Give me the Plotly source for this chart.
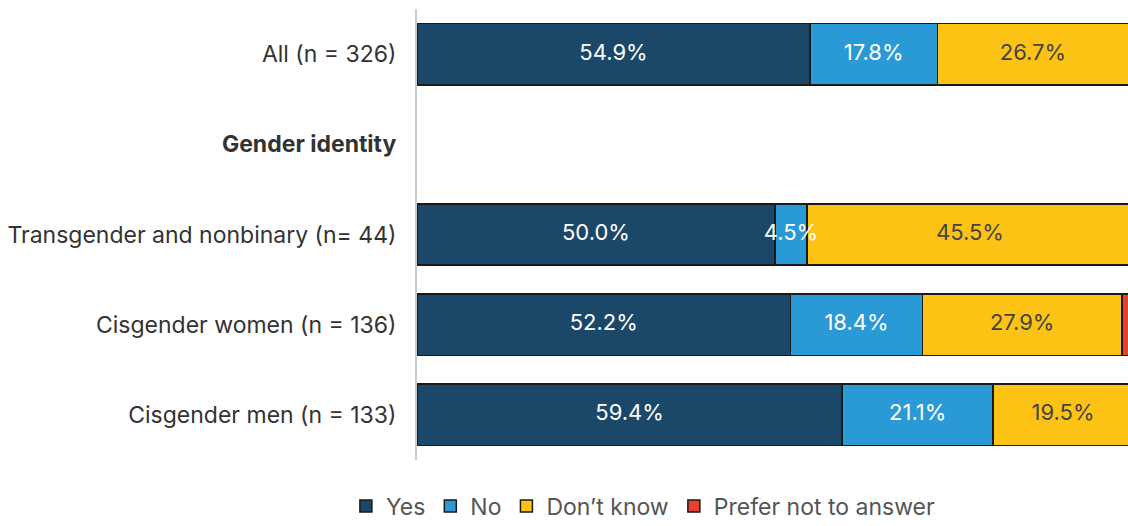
import plotly.graph_objects as go

categories = [
    "All (n = 326)",
    "<b>Gender identity</b>",
    "Transgender and nonbinary (n= 44)",
    "Cisgender women (n = 136)",
    "Cisgender men (n = 133)",
]
series_names = ["Yes", "No", "Don\u2019t know", "Prefer not to answer"]
yes_vals = [54.9, None, 50.0, 52.2, 59.4]
no_vals = [17.8, None, 4.5, 18.4, 21.1]
dont_know_vals = [26.7, None, 45.5, 27.9, 19.5]
prefer_not_vals = [0.6, None, 0.0, 1.5, 0.0]

colors = ["#1b4869", "#2a9ad7", "#fcc314", "#e8402c"]
text_colors = ["#ffffff", "#ffffff", "#444444", None]
FONT = "Inter, 'Open Sans', sans-serif"

all_series = [yes_vals, no_vals, dont_know_vals, prefer_not_vals]

fig = go.Figure()
for name, vals, col in zip(series_names, all_series, colors):
    fig.add_trace(
        go.Bar(
            name=name,
            y=categories,
            x=vals,
            orientation="h",
            marker=dict(color=col, line=dict(color="#1a1a1a", width=1.5)),
            hoverinfo="x+name",
        )
    )

# Value labels centred on each stacked segment, drawn above all bars
offsets = [0.0] * len(categories)
for name, vals, tcol in zip(series_names, all_series, text_colors):
    xs, ys, texts = [], [], []
    for i, v in enumerate(vals):
        if v is None:
            continue
        if tcol is not None:
            xs.append(offsets[i] + v / 2)
            ys.append(categories[i])
            texts.append(f"{v:.1f}%")
        offsets[i] += v
    if tcol is None:
        continue
    fig.add_trace(
        go.Scatter(
            x=xs,
            y=ys,
            mode="text",
            text=texts,
            textposition="middle center",
            textfont=dict(color=tcol, size=22, family=FONT),
            showlegend=False,
            hoverinfo="skip",
            cliponaxis=True,
        )
    )

fig.update_layout(
    barmode="stack",
    bargap=0.32,
    width=1128,
    height=526,
    margin=dict(l=417, r=0, t=9, b=66, autoexpand=False),
    plot_bgcolor="white",
    paper_bgcolor="white",
    font=dict(family=FONT, size=22, color="#333333"),
    legend=dict(
        orientation="h",
        x=-0.1,
        xanchor="left",
        y=-0.102,
        yanchor="middle",
        font=dict(size=23, color="#555555", family=FONT),
        traceorder="normal",
        itemwidth=30,
    ),
    showlegend=True,
)
fig.update_xaxes(
    range=[0, 99.33],
    showgrid=False,
    showticklabels=False,
    zeroline=False,
    showline=False,
    fixedrange=True,
)
fig.update_yaxes(
    categoryorder="array",
    categoryarray=categories,
    autorange="reversed",
    showgrid=False,
    showline=True,
    linecolor="#cccccc",
    linewidth=2,
    ticks="outside",
    ticklen=14,
    tickcolor="rgba(0,0,0,0)",
    tickfont=dict(size=23, color="#333333", family=FONT),
)

fig.write_html("out.html")
